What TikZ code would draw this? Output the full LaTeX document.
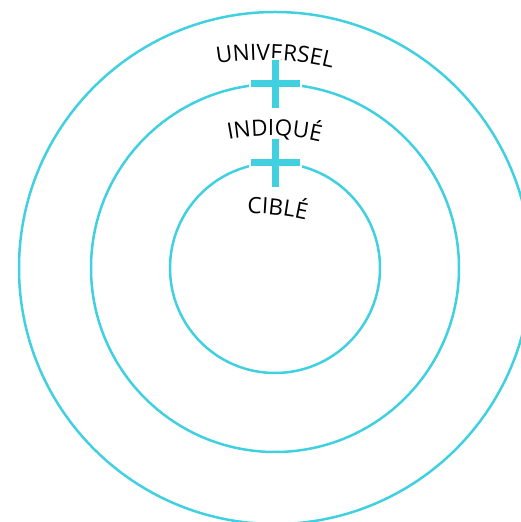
\documentclass[tikz,border=0pt]{standalone}
\usepackage{fontspec}
\newfontfamily\labelfont{Open Sans}
\usetikzlibrary{decorations.text}
\definecolor{ringcyan}{RGB}{64,208,224}
\tikzset{
  ring/.style={draw=ringcyan, line width=2.5pt},
  barwhite/.style={fill=white},
  barcyan/.style={fill=ringcyan},
  arctext/.style={decorate, decoration={text along path, text align=center,
     text={|\labelfont\fontsize{22.5}{22.5}\selectfont|#1}}}
}
\begin{document}
\begin{tikzpicture}[x=1pt,y=1pt]
\useasboundingbox (0,0) rectangle (521,522);
\coordinate (C) at (275,254);
% rings
\draw[ring] (C) circle[radius=256];
\draw[ring] (C) circle[radius=184];
\draw[ring] (C) circle[radius=105];
% curved labels
\path[arctext=UNIVERSEL] (264,182) ++(127.75:280) arc[start angle=127.75, end angle=47.75, radius=280];
\path[arctext=INDIQUÉ] (270,166) ++(128.83:220) arc[start angle=128.83, end angle=48.83, radius=220];
\path[arctext=CIBLÉ] (250,58.5) ++(123.8:250) arc[start angle=123.8, end angle=43.8, radius=250];
% plus signs
\foreach \py in {438,359}{
  \fill[barwhite] (275-26.5,\py-5.5) rectangle (275+26.5,\py+5.5);
  \fill[barwhite] (275-5.5,\py-26) rectangle (275+5.5,\py+26);
  \fill[barcyan] (275-24.5,\py-3.5) rectangle (275+24.5,\py+3.5);
  \fill[barcyan] (275-3.5,\py-24) rectangle (275+3.5,\py+24);
}
\end{tikzpicture}
\end{document}
